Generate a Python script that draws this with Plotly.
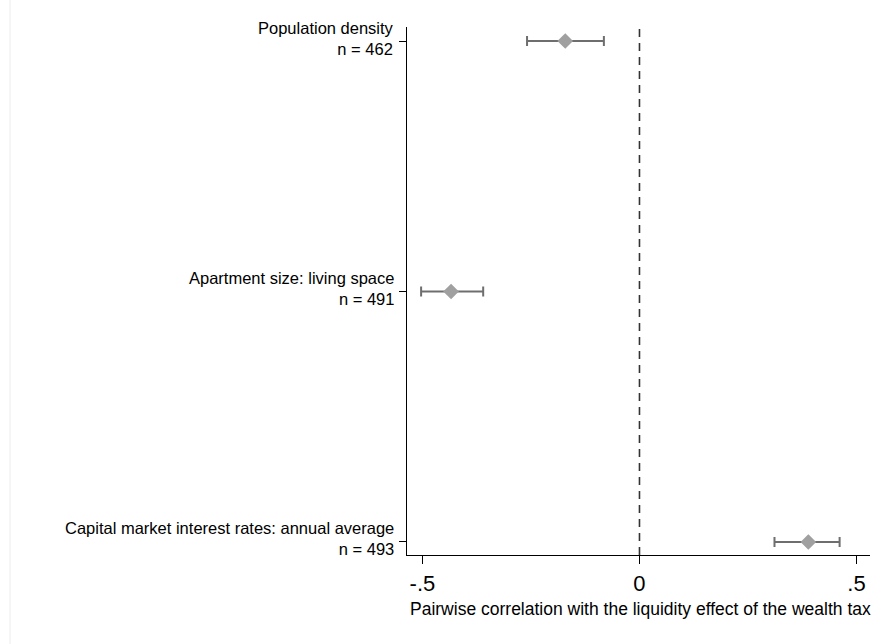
import plotly.graph_objects as go

labels = [
    "Population density",
    "Apartment size: living space",
    "Capital market interest rates: annual average",
]
n_obs = [462, 491, 493]
coef = [-0.171, -0.434, 0.389]
ci_low = [-0.259, -0.503, 0.311]
ci_high = [-0.082, -0.360, 0.461]
x_ticks = [-0.5, 0, 0.5]
x_ticktext = ["-.5", "0", ".5"]
x_title = "Pairwise correlation with the liquidity effect of the wealth tax"

ypos = list(range(1, len(labels) + 1))

FONT = "Liberation Sans, Arial, sans-serif"
W, H = 883, 644
ML, MR, MT, MB = 407, 13, 27, 89
PW, PH = W - ML - MR, H - MT - MB

fig = go.Figure()
fig.add_trace(go.Scatter(
    x=coef, y=ypos, mode="markers",
    marker=dict(symbol="diamond", size=12, color="#a0a0a0", line=dict(width=0)),
    error_x=dict(type="data", symmetric=False,
                 array=[h - c for h, c in zip(ci_high, coef)],
                 arrayminus=[c - l for c, l in zip(coef, ci_low)],
                 color="#6e6e6e", thickness=2, width=5),
    showlegend=False, hoverinfo="skip",
))

fig.add_shape(type="line", xref="x", yref="paper", x0=0, x1=0, y0=0, y1=1,
              line=dict(color="#333333", width=1.6, dash="8px,6px"), layer="below")

# faint frame line at the left edge
fig.add_shape(type="line", xref="paper", yref="paper",
              x0=(10 - ML) / PW, x1=(10 - ML) / PW,
              y0=-MB / PH, y1=1 + MT / PH,
              line=dict(color="#ececec", width=1), layer="below")

# category labels (two lines, right aligned)
for y, lab, n in zip(ypos, labels, n_obs):
    fig.add_annotation(text=f"{lab}<br>n = {n}", xref="paper", yref="y", x=0, y=y,
                       xanchor="right", yanchor="middle", align="right",
                       xshift=-11, yshift=3, showarrow=False,
                       font=dict(family=FONT, size=16.5, color="black"))

fig.add_annotation(text=x_title, xref="paper", yref="paper", x=0.505, y=(555 - 609) / PH,
                   xanchor="center", yanchor="middle", showarrow=False,
                   font=dict(family=FONT, size=17.5, color="black"))

fig.update_layout(
    width=W, height=H,
    margin=dict(l=ML, r=MR, t=MT, b=MB),
    paper_bgcolor="white", plot_bgcolor="white",
    font=dict(family=FONT, color="black"),
    xaxis=dict(range=[-0.5355, 0.531], tickvals=x_ticks, ticktext=x_ticktext,
               showgrid=False, zeroline=False, showline=True, linecolor="black",
               linewidth=1.3, ticks="outside", ticklen=8, tickwidth=1.3,
               tickcolor="black", tickfont=dict(size=22, family=FONT)),
    yaxis=dict(range=[3.052, 0.944], tickvals=ypos, showticklabels=False,
               showgrid=False, zeroline=False, showline=True, linecolor="black",
               linewidth=1.3, ticks="outside", ticklen=7, tickwidth=1.3,
               tickcolor="black"),
)

fig.write_html("out.html")
